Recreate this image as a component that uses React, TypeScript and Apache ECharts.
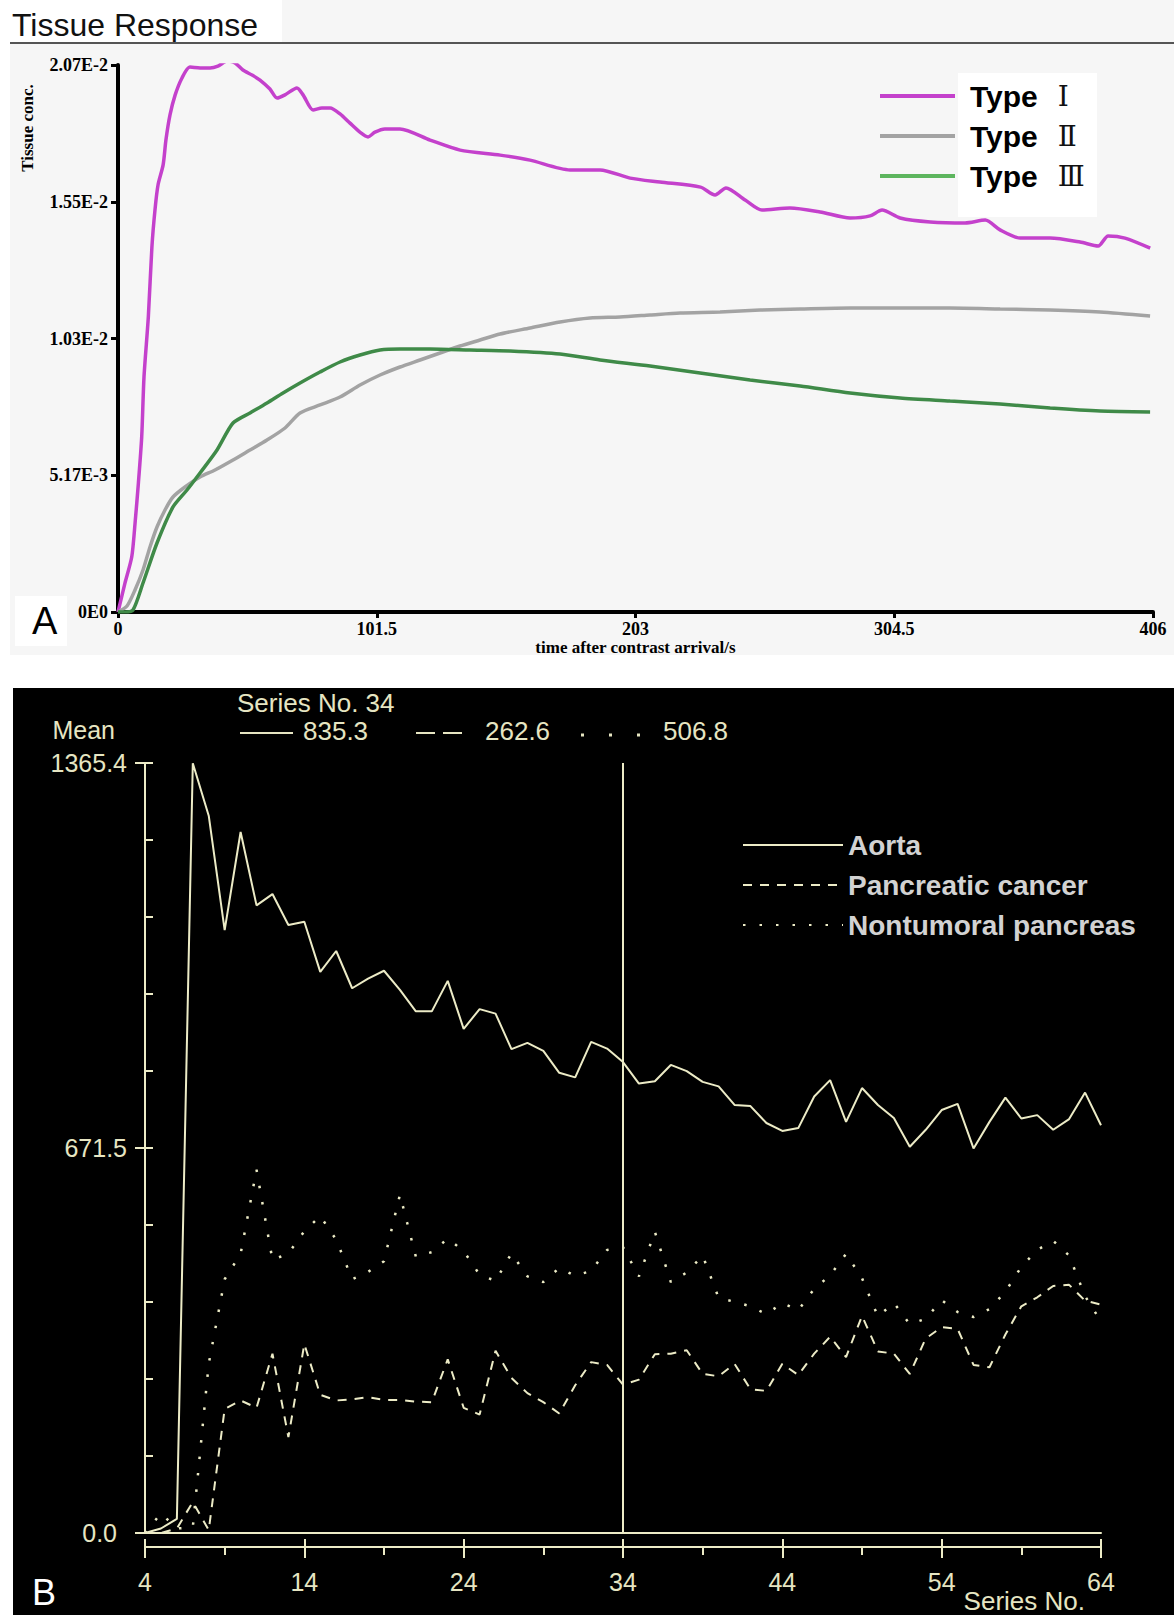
import React, { useEffect, useRef } from 'react';
import * as echarts from 'echarts';

// ---------- Panel A data: [time after contrast arrival (s), tissue conc.] ----------
const typeI: number[][] = [
  [0, 0], [2.75, 0.0011], [5.4, 0.00209], [6.7, 0.00337], [8.0, 0.00488], [9.3, 0.00663], [10.2, 0.0089],
  [11.9, 0.01117], [13.3, 0.01381], [14.5, 0.01521], [15.7, 0.01616], [17.7, 0.01692], [18.8, 0.01786],
  [20.4, 0.01881], [22.4, 0.01956], [25.1, 0.02021], [28.2, 0.02062], [32.2, 0.02059], [36.1, 0.02059],
  [39.2, 0.02066], [42.8, 0.02085], [45.9, 0.02078], [49, 0.02051], [52.6, 0.02032], [55.7, 0.02013],
  [59.6, 0.01979], [62.4, 0.01945], [65.5, 0.01957], [70.2, 0.01983], [72.6, 0.01957], [76.5, 0.019],
  [80, 0.01907], [83.2, 0.01907], [87.1, 0.01885], [91, 0.0185], [94.9, 0.01816], [98.1, 0.01798],
  [100.8, 0.01816], [104.7, 0.01828], [110.6, 0.01828], [122.4, 0.01786], [134.2, 0.01748], [149.9, 0.01729],
  [161.6, 0.0171], [177.3, 0.01673], [189.1, 0.01673], [200.9, 0.01642], [212.6, 0.01627], [228.5, 0.01608],
  [234.2, 0.01578], [238.5, 0.01605], [246, 0.01559], [252.6, 0.01521], [263.6, 0.01529], [275.4, 0.01514],
  [287.2, 0.01491], [295, 0.01499], [299.7, 0.01521], [306.8, 0.01491], [318.6, 0.01476], [332.3, 0.01472],
  [340.2, 0.01483], [346, 0.01446], [353.9, 0.01415], [365.6, 0.01415], [377.4, 0.014], [384.5, 0.01385],
  [388.4, 0.01423], [395, 0.01415], [404.9, 0.01377],
];
const typeII: number[][] = [
  [0, 0], [3.53, 0.000227], [6.67, 0.000833], [9.81, 0.001589], [12.55, 0.00246], [15.3, 0.003217],
  [18.44, 0.00386], [21.58, 0.004352], [26.28, 0.00473], [32.17, 0.005109], [38.05, 0.005374],
  [45.12, 0.005752], [51.79, 0.006131], [58.45, 0.006509], [65.52, 0.006963], [71.4, 0.007531],
  [79.25, 0.007834], [87.09, 0.008136], [94.94, 0.00859], [102.79, 0.008969], [110.63, 0.009272],
  [118.48, 0.009536], [126.32, 0.009801], [134.17, 0.010066], [142.02, 0.010293], [149.86, 0.01052],
  [161.63, 0.010747], [173.4, 0.010974], [185.17, 0.011126], [196.94, 0.011164], [208.71, 0.01124],
  [220.48, 0.011315], [236.17, 0.011353], [251.86, 0.011429], [267.56, 0.011467], [287.17, 0.011504],
  [306.79, 0.011504], [326.4, 0.011504], [346.02, 0.011467], [365.63, 0.011429], [385.25, 0.011353],
  [404.86, 0.011202],
];
const typeIII: number[][] = [
  [0, 0], [2.75, 0], [5.88, 0.0000757], [9.81, 0.001097], [15.3, 0.002611], [21.58, 0.003974],
  [27.07, 0.004617], [32.17, 0.00526], [38.84, 0.006131], [45.12, 0.007152], [51.79, 0.007531],
  [58.45, 0.007909], [64.73, 0.008288], [71.4, 0.008666], [79.25, 0.009082], [87.09, 0.009461],
  [94.94, 0.009726], [102.79, 0.009915], [110.63, 0.009953], [122.4, 0.009953], [138.09, 0.009915],
  [153.79, 0.009877], [173.4, 0.009763], [189.09, 0.009536], [208.71, 0.009309], [228.32, 0.009045],
  [247.94, 0.00878], [267.56, 0.008553], [287.17, 0.008288], [306.79, 0.008098], [326.4, 0.007985],
  [346.02, 0.007871], [365.63, 0.00772], [385.25, 0.007606], [404.86, 0.00757],
];
const typeNames = ['Type Ⅰ', 'Type Ⅱ', 'Type Ⅲ'];
const concTickLabels = ['0E0', '5.17E-3', '1.03E-2', '1.55E-2', '2.07E-2'];

// ---------- Panel B data: mean attenuation per series number ----------
const seriesNo = [
  4, 5, 6, 7, 8, 9, 10, 11, 12, 13, 14, 15, 16, 17, 18, 19, 20, 21, 22, 23, 24, 25, 26, 27, 28, 29, 30, 31, 32, 33, 34,
  35, 36, 37, 38, 39, 40, 41, 42, 43, 44, 45, 46, 47, 48, 49, 50, 51, 52, 53, 54, 55, 56, 57, 58, 59, 60, 61, 62, 63, 64,
];
const aortaMean = [
  0, 8, 25, 1365, 1272, 1069, 1243, 1113, 1133, 1078, 1084, 995, 1032, 966, 983, 997, 963, 925, 925, 979, 894,
  929, 921, 858, 869, 855, 816, 808, 871, 859, 835, 797, 801, 830, 819, 800, 792, 759, 757, 727, 713, 718, 774,
  803, 729, 789, 759, 736, 685, 715, 750, 761, 682, 729, 772, 735, 741, 715, 734, 781, 723,
];
const cancerMean = [
  0, 0, 8, 55, 5, 220, 235, 222, 318, 170, 335, 245, 235, 237, 241, 236, 236, 233, 232, 308, 222, 210, 323, 275,
  248, 232, 212, 262, 303, 298, 263, 272, 317, 318, 324, 282, 278, 300, 255, 252, 300, 280, 318, 348, 312, 385,
  322, 318, 282, 345, 365, 362, 298, 294, 352, 402, 418, 438, 440, 412, 405,
];
const nontumoralMean = [
  0, 35, 8, 10, 300, 450, 495, 644, 484, 496, 535, 562, 520, 450, 463, 482, 600, 490, 498, 522, 500, 458, 447,
  496, 455, 445, 470, 456, 465, 502, 507, 455, 534, 445, 462, 492, 417, 410, 402, 388, 408, 395, 433, 457, 495,
  452, 384, 408, 370, 380, 413, 392, 383, 397, 428, 472, 502, 518, 492, 420, 375,
];
const bNames = ['Aorta', 'Pancreatic cancer', 'Nontumoral pancreas'];
const meanTickLabels = ['0.0', '671.5', '1365.4'];
const cursorSeries = 34;
const cursorValues = ['835.3', '262.6', '506.8'];

const serif = '"Liberation Serif", "Times New Roman", serif';
const sans = '"Liberation Sans", Arial, sans-serif';
const cream = '#ecebc6';
const bText = '#e6e5c2';
const hiddenSymbol = { color: 'transparent', borderColor: 'transparent', borderWidth: 0, opacity: 0 };

const zip = (xs: number[], ys: number[]) => xs.map((x, i) => [x, ys[i]]);

function buildOption(): any {
  const yStepB = 1365.4 / 10;
  return {
    animation: false,
    grid: [
      { left: 118, top: 65, width: 1035, height: 547, outerBoundsMode: 'none' },
      { left: 145, top: 763, width: 956, height: 770, outerBoundsMode: 'none' },
    ],
    xAxis: [
      {
        gridIndex: 0, type: 'value', position: 'bottom', min: 0, max: 406, interval: 101.5,
        axisLine: { show: true, onZero: false, lineStyle: { color: '#000', width: 4 } },
        axisTick: { show: true, length: 6, lineStyle: { color: '#000', width: 3 } },
        axisLabel: { color: '#000', fontFamily: serif, fontWeight: 'bold', fontSize: 18, margin: 8 },
        splitLine: { show: false },
        name: 'time after contrast arrival/s', nameLocation: 'middle', nameGap: 35,
        nameTextStyle: { color: '#000', fontFamily: serif, fontWeight: 'bold', fontSize: 17, verticalAlign: 'middle' },
      },
      {
        gridIndex: 1, type: 'value', position: 'bottom', min: 4, max: 64, interval: 10,
        axisLine: { show: true, onZero: false, lineStyle: { color: cream, width: 2 } },
        axisTick: { show: false }, axisLabel: { show: false }, splitLine: { show: false },
      },
      {
        gridIndex: 1, type: 'value', position: 'bottom', min: 4, max: 64, interval: 10, offset: 14,
        axisLine: { show: true, onZero: false, lineStyle: { color: cream, width: 2 } },
        axisTick: { show: true, length: 11, lineStyle: { color: cream, width: 2 } },
        minorTick: { show: true, splitNumber: 2, length: 8, lineStyle: { color: cream, width: 2 } },
        axisLabel: { color: bText, fontFamily: sans, fontSize: 25, margin: 22 },
        splitLine: { show: false }, minorSplitLine: { show: false },
      },
      {
        gridIndex: 1, type: 'value', position: 'bottom', min: 4, max: 64, interval: 10, offset: 14,
        axisLine: { show: false, onZero: false },
        axisTick: { show: true, inside: true, length: 8, lineStyle: { color: cream, width: 2 } },
        axisLabel: { show: false }, splitLine: { show: false },
      },
    ],
    yAxis: [
      {
        gridIndex: 0, type: 'value', position: 'left', min: 0, max: 0.0207, interval: 0.005175,
        axisLine: { show: true, onZero: false, lineStyle: { color: '#000', width: 4 } },
        axisTick: { show: true, length: 7, lineStyle: { color: '#000', width: 3 } },
        axisLabel: {
          color: '#000', fontFamily: serif, fontWeight: 'bold', fontSize: 18, margin: 10,
          formatter: (v: number) => concTickLabels[Math.round(v / 0.005175)] ?? '',
        },
        splitLine: { show: false },
      },
      {
        gridIndex: 1, type: 'value', position: 'left', min: 0, max: 1365.4, interval: yStepB,
        axisLine: { show: true, onZero: false, lineStyle: { color: cream, width: 2 } },
        axisTick: { show: true, inside: true, length: 8, lineStyle: { color: cream, width: 2 } },
        axisLabel: {
          color: bText, fontFamily: sans, fontSize: 25, margin: 18,
          formatter: (v: number) => {
            const i = Math.round(v / yStepB);
            if (i === 0) return '{z|' + meanTickLabels[0] + '}';
            if (i === 5) return meanTickLabels[1];
            if (i === 10) return meanTickLabels[2];
            return '';
          },
          rich: { z: { color: bText, fontFamily: sans, fontSize: 25, padding: [0, 10, 0, 0] } },
        },
        splitLine: { show: false },
        name: 'Mean', nameLocation: 'end', nameGap: 33,
        nameTextStyle: { color: bText, fontFamily: sans, fontSize: 25, align: 'right', verticalAlign: 'middle', padding: [0, 30, 0, 0] },
      },
      {
        gridIndex: 1, type: 'value', position: 'left', offset: 0, min: 0, max: 1365.4, interval: 682.7,
        axisLine: { show: false, onZero: false },
        axisTick: { show: true, length: 10, lineStyle: { color: cream, width: 2 } },
        axisLabel: { show: false }, splitLine: { show: false },
      },
    ],
    legend: [
      {
        data: [
          { name: typeNames[0] },
          { name: typeNames[1] },
          { name: typeNames[2], lineStyle: { color: '#5db55e' } },
        ],
        orient: 'vertical', left: 873, top: 76, itemWidth: 75, itemHeight: 14, itemGap: 10,
        selectedMode: false, lineStyle: { width: 4 }, itemStyle: hiddenSymbol,
        formatter: (name: string) => {
          const parts = name.split(' ');
          return '{a|' + parts[0] + '}{b|' + parts[1] + '}';
        },
        textStyle: {
          rich: {
            a: { fontFamily: sans, fontWeight: 'bold', fontSize: 30, color: '#000', lineHeight: 36, padding: [0, 0, 0, 10] },
            b: { fontFamily: '"DejaVu Serif", "Liberation Serif", serif', fontSize: 28, color: '#111', lineHeight: 36, padding: [0, 0, 0, 20] },
          },
        },
      },
      {
        data: bNames, orient: 'vertical', left: 737, top: 824, itemWidth: 100, itemHeight: 14, itemGap: 8,
        selectedMode: false, itemStyle: hiddenSymbol,
        textStyle: { color: '#d2d2d2', fontFamily: sans, fontWeight: 'bold', fontSize: 28, lineHeight: 32 },
      },
    ],
    series: [
      {
        name: typeNames[0], type: 'line', xAxisIndex: 0, yAxisIndex: 0, data: typeI, symbol: 'none',
        smooth: 0.25, lineStyle: { color: '#c441cc', width: 3.5 }, itemStyle: { color: '#c441cc' },
      },
      {
        name: typeNames[1], type: 'line', xAxisIndex: 0, yAxisIndex: 0, data: typeII, symbol: 'none',
        smooth: 0.25, lineStyle: { color: '#a3a3a3', width: 3.5 }, itemStyle: { color: '#a3a3a3' },
      },
      {
        name: typeNames[2], type: 'line', xAxisIndex: 0, yAxisIndex: 0, data: typeIII, symbol: 'none',
        smooth: 0.25, lineStyle: { color: '#3f8a48', width: 3.5 }, itemStyle: { color: '#3f8a48' },
      },
      {
        name: bNames[0], type: 'line', xAxisIndex: 1, yAxisIndex: 1, data: zip(seriesNo, aortaMean), symbol: 'none',
        lineStyle: { color: cream, width: 2 }, itemStyle: { color: cream },
        markLine: {
          silent: true, symbol: ['none', 'none'], label: { show: false },
          lineStyle: { color: cream, width: 2, type: 'solid' },
          data: [{ xAxis: cursorSeries }],
        },
      },
      {
        name: bNames[1], type: 'line', xAxisIndex: 1, yAxisIndex: 1, data: zip(seriesNo, cancerMean), symbol: 'none',
        lineStyle: { color: cream, width: 2, type: [9, 8] }, itemStyle: { color: cream },
      },
      {
        name: bNames[2], type: 'line', xAxisIndex: 1, yAxisIndex: 1, data: zip(seriesNo, nontumoralMean), symbol: 'none',
        lineStyle: { color: cream, width: 2.5, type: [2.5, 14] }, itemStyle: { color: cream },
      },
    ],
    graphic: [
      { type: 'text', x: 12, y: 25, style: { text: 'Tissue Response', fill: '#111', font: '32px ' + sans, textAlign: 'left', textVerticalAlign: 'middle' } },
      { type: 'line', shape: { x1: 10, y1: 43, x2: 1174, y2: 43 }, style: { stroke: '#555', lineWidth: 2 } },
      { type: 'text', x: 27, y: 128, rotation: Math.PI / 2, style: { text: 'Tissue conc.', fill: '#000', font: 'bold 17px ' + serif, textAlign: 'center', textVerticalAlign: 'middle' } },
      { type: 'rect', shape: { x: 15, y: 596, width: 52, height: 50 }, style: { fill: '#fff' } },
      { type: 'text', x: 32, y: 621, style: { text: 'A', fill: '#000', font: '38px ' + sans, textAlign: 'left', textVerticalAlign: 'middle' } },
      { type: 'rect', shape: { x: 958, y: 73, width: 139, height: 144 }, style: { fill: '#fff' } },
      { type: 'text', x: 237, y: 703, style: { text: 'Series No. ' + cursorSeries, fill: bText, font: '26px ' + sans, textAlign: 'left', textVerticalAlign: 'middle' } },
      { type: 'line', shape: { x1: 240, y1: 733, x2: 293, y2: 733 }, style: { stroke: bText, lineWidth: 2 } },
      { type: 'text', x: 303, y: 731, style: { text: cursorValues[0], fill: bText, font: '26px ' + sans, textAlign: 'left', textVerticalAlign: 'middle' } },
      { type: 'line', shape: { x1: 416, y1: 733, x2: 462, y2: 733 }, style: { stroke: bText, lineWidth: 2, lineDash: [19, 8] } },
      { type: 'text', x: 485, y: 731, style: { text: cursorValues[1], fill: bText, font: '26px ' + sans, textAlign: 'left', textVerticalAlign: 'middle' } },
      { type: 'line', shape: { x1: 581, y1: 735, x2: 641, y2: 735 }, style: { stroke: bText, lineWidth: 3, lineDash: [3, 25] } },
      { type: 'text', x: 663, y: 731, style: { text: cursorValues[2], fill: bText, font: '26px ' + sans, textAlign: 'left', textVerticalAlign: 'middle' } },
      { type: 'text', x: 1085, y: 1601, style: { text: 'Series No.', fill: bText, font: '26px ' + sans, textAlign: 'right', textVerticalAlign: 'middle' } },
      { type: 'text', x: 32, y: 1592, style: { text: 'B', fill: '#fff', font: '36px ' + sans, textAlign: 'left', textVerticalAlign: 'middle' } },
    ],
  };
}

export default function App() {
  const ref = useRef<HTMLDivElement>(null);
  useEffect(() => {
    document.body.style.margin = '0';
    if (!ref.current) return;
    const chart = echarts.init(ref.current, null, { renderer: 'svg' });
    chart.setOption(buildOption());
    return () => chart.dispose();
  }, []);
  return (
    <div style={{ position: 'relative', width: 1174, height: 1615, background: '#fff', overflow: 'hidden' }}>
      <div style={{ position: 'absolute', left: 10, top: 0, width: 1164, height: 655, background: '#f6f6f6' }} />
      <div style={{ position: 'absolute', left: 0, top: 0, width: 282, height: 42, background: '#fff' }} />
      <div style={{ position: 'absolute', left: 13, top: 688, width: 1161, height: 927, background: '#000' }} />
      <div ref={ref} style={{ position: 'absolute', left: 0, top: 0, width: 1174, height: 1615 }} />
    </div>
  );
}
